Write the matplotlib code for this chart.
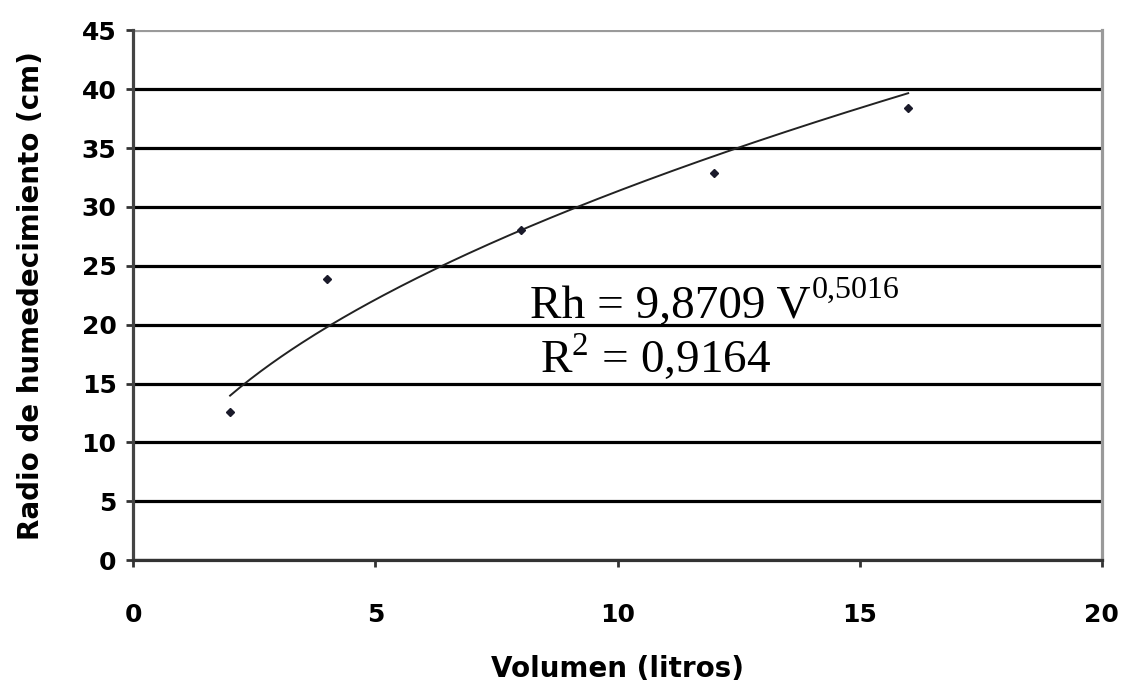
import numpy as np
import matplotlib.pyplot as plt

# data
volumen = [2, 4, 8, 12, 16]
radio = [12.6, 23.9, 28.0, 32.9, 38.4]
coef_a = 9.8709
coef_b = 0.5016
xticks = [0, 5, 10, 15, 20]
yticks = [0, 5, 10, 15, 20, 25, 30, 35, 40, 45]

plt.rcParams['font.family'] = ['DejaVu Sans']

fig = plt.figure(figsize=(11.29, 6.89), dpi=100)
ax = fig.add_axes([0.118, 0.187, 0.858, 0.769])

# horizontal grid
for yv in yticks:
    c = '#9a9a9a' if yv == 45 else 'black'
    ax.axhline(yv, color=c, linewidth=2.3, zorder=1)

xs = np.linspace(volumen[0], volumen[-1], 200)
ax.plot(xs, coef_a * xs ** coef_b, color='#222222', linewidth=1.4, zorder=3)
ax.plot(volumen, radio, linestyle='none', marker='D', markersize=4,
        color='#1a1a2a', zorder=4)

ax.set_xlim(0, 20)
ax.set_ylim(0, 45)
ax.set_xticks(xticks)
ax.set_yticks(yticks)

ax.spines['top'].set_visible(False)
ax.spines['right'].set_color('#9a9a9a')
ax.spines['right'].set_linewidth(2.3)
ax.spines['left'].set_color('#444444')
ax.spines['left'].set_linewidth(2.3)
ax.spines['bottom'].set_color('#333333')
ax.spines['bottom'].set_linewidth(2.3)

ax.tick_params(axis='x', length=5, width=2, pad=26, labelsize=18, color='#333333')
ax.tick_params(axis='y', length=5, width=2, pad=7, labelsize=18, color='#333333')
for lab in ax.get_xticklabels() + ax.get_yticklabels():
    lab.set_fontweight('bold')

ax.set_xlabel('Volumen (litros)', fontsize=20, fontweight='bold', labelpad=20)
ax.set_ylabel('Radio de humedecimiento (cm)', fontsize=20, fontweight='bold', labelpad=26)

t = ax.text(8.19, 20.6, 'Rh = 9,8709 V', fontsize=34,
            family='Liberation Serif', zorder=5)
ax.annotate('0,5016', xy=(1, 22.3), xycoords=(t, 'data'), xytext=(1, 0),
            textcoords='offset points', ha='left', va='baseline', fontsize=23,
            family='Liberation Serif', zorder=5)
ax.text(8.39, 15.96, r'R$^{\mathregular{2}}$ = 0,9164', fontsize=34,
        family='Liberation Serif', zorder=5)

fig.savefig('out.png', dpi=100)
